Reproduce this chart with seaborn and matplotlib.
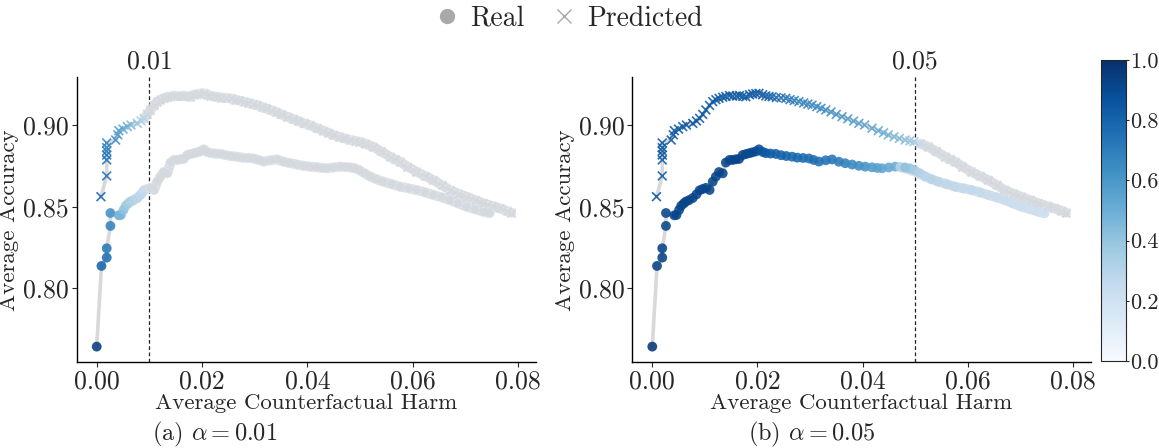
import numpy as np
import pandas as pd
import matplotlib
matplotlib.use("Agg")
import matplotlib.pyplot as plt
import matplotlib.transforms as mtransforms
from matplotlib.lines import Line2D
import seaborn as sns

# ---------------- data ----------------
real_harm = [0.0000, 0.0009, 0.0019, 0.0019, 0.0026, 0.0026, 0.0042, 0.0046, 0.0051, 0.0055,
             0.0060, 0.0064, 0.0070, 0.0077, 0.0084, 0.0090, 0.0096, 0.0102, 0.0109, 0.0115,
             0.0121, 0.0127, 0.0134, 0.0140, 0.0147, 0.0153, 0.0159, 0.0165, 0.0172, 0.0178,
             0.0184, 0.0190, 0.0197, 0.0203, 0.0210, 0.0216, 0.0225, 0.0235, 0.0245, 0.0255,
             0.0266, 0.0276, 0.0287, 0.0298, 0.0307, 0.0317, 0.0330, 0.0342, 0.0355, 0.0367,
             0.0380, 0.0393, 0.0405, 0.0418, 0.0428, 0.0437, 0.0450, 0.0462, 0.0472, 0.0481,
             0.0490, 0.0498, 0.0508, 0.0519, 0.0531, 0.0544, 0.0560, 0.0576, 0.0592, 0.0607,
             0.0623, 0.0639, 0.0655, 0.0670, 0.0686, 0.0702, 0.0718, 0.0734, 0.0746]
real_acc = [0.7643, 0.8137, 0.8188, 0.8245, 0.8382, 0.8461, 0.8447, 0.8449, 0.8480, 0.8505,
            0.8520, 0.8531, 0.8540, 0.8553, 0.8575, 0.8600, 0.8608, 0.8615, 0.8602, 0.8653,
            0.8684, 0.8712, 0.8704, 0.8770, 0.8786, 0.8786, 0.8790, 0.8792, 0.8816, 0.8822,
            0.8827, 0.8832, 0.8838, 0.8851, 0.8835, 0.8828, 0.8825, 0.8823, 0.8815, 0.8810,
            0.8806, 0.8800, 0.8798, 0.8795, 0.8786, 0.8776, 0.8784, 0.8789, 0.8775, 0.8766,
            0.8758, 0.8750, 0.8745, 0.8741, 0.8737, 0.8735, 0.8740, 0.8745, 0.8743, 0.8740,
            0.8735, 0.8725, 0.8705, 0.8685, 0.8668, 0.8653, 0.8638, 0.8622, 0.8612, 0.8602,
            0.8588, 0.8572, 0.8557, 0.8541, 0.8520, 0.8500, 0.8485, 0.8469, 0.8460]
# colour value of each Real point, panel (a) alpha=0.01 and panel (b) alpha=0.05
real_val_a = [0.95, 0.80, 0.76, 0.72, 0.68, 0.62, 0.50, 0.46, 0.42, 0.38,
              0.36, 0.33, 0.31, 0.29, 0.27, 0.25, 0.23, 0.12, 0.10, 0.10,
              0.10, 0.10, 0.10, 0.10, 0.10, 0.10, 0.10, 0.10, 0.10, 0.10,
              0.10, 0.10, 0.10, 0.10, 0.10, 0.10, 0.10, 0.10, 0.10, 0.10,
              0.10, 0.10, 0.10, 0.10, 0.10, 0.10, 0.10, 0.10, 0.10, 0.10,
              0.10, 0.10, 0.10, 0.10, 0.10, 0.10, 0.10, 0.10, 0.10, 0.10,
              0.10, 0.10, 0.10, 0.10, 0.10, 0.10, 0.10, 0.10, 0.10, 0.10,
              0.10, 0.10, 0.10, 0.10, 0.10, 0.10, 0.10, 0.10, 0.10]
real_val_b = [0.97, 0.93, 0.93, 0.93, 0.92, 0.92, 0.92, 0.92, 0.92, 0.92,
              0.92, 0.92, 0.92, 0.92, 0.92, 0.92, 0.92, 0.92, 0.92, 0.92,
              0.92, 0.92, 0.92, 0.92, 0.92, 0.92, 0.92, 0.92, 0.92, 0.91,
              0.91, 0.91, 0.91, 0.89, 0.86, 0.84, 0.83, 0.82, 0.80, 0.80,
              0.78, 0.78, 0.77, 0.76, 0.76, 0.75, 0.74, 0.73, 0.71, 0.69,
              0.66, 0.64, 0.62, 0.58, 0.56, 0.54, 0.52, 0.50, 0.30, 0.42,
              0.40, 0.36, 0.32, 0.30, 0.30, 0.29, 0.28, 0.27, 0.26, 0.26,
              0.25, 0.24, 0.24, 0.23, 0.22, 0.22, 0.21, 0.21, 0.20]

pred_harm = [0.0008, 0.0019, 0.0019, 0.0019, 0.0019, 0.0019, 0.0019, 0.0036, 0.0040, 0.0042,
             0.0050, 0.0058, 0.0065, 0.0077, 0.0084, 0.0090, 0.0096, 0.0102, 0.0109, 0.0115,
             0.0121, 0.0127, 0.0134, 0.0140, 0.0147, 0.0153, 0.0160, 0.0166, 0.0172, 0.0178,
             0.0185, 0.0191, 0.0197, 0.0203, 0.0210, 0.0216, 0.0222, 0.0228, 0.0236, 0.0245,
             0.0254, 0.0262, 0.0270, 0.0279, 0.0288, 0.0296, 0.0304, 0.0313, 0.0321, 0.0330,
             0.0340, 0.0350, 0.0361, 0.0372, 0.0383, 0.0393, 0.0404, 0.0418, 0.0430, 0.0440,
             0.0449, 0.0460, 0.0470, 0.0481, 0.0490, 0.0498, 0.0510, 0.0525, 0.0540, 0.0557,
             0.0566, 0.0576, 0.0590, 0.0607, 0.0623, 0.0639, 0.0655, 0.0670, 0.0686, 0.0702,
             0.0718, 0.0734, 0.0750, 0.0765, 0.0778, 0.0787]
pred_acc = [0.8561, 0.8688, 0.8786, 0.8816, 0.8840, 0.8861, 0.8890, 0.8908, 0.8940, 0.8965,
            0.8975, 0.8990, 0.9000, 0.9010, 0.9025, 0.9041, 0.9065, 0.9092, 0.9120, 0.9143,
            0.9155, 0.9163, 0.9170, 0.9175, 0.9180, 0.9177, 0.9178, 0.9180, 0.9176, 0.9173,
            0.9185, 0.9190, 0.9192, 0.9194, 0.9185, 0.9178, 0.9175, 0.9173, 0.9168, 0.9166,
            0.9163, 0.9155, 0.9150, 0.9143, 0.9135, 0.9128, 0.9122, 0.9112, 0.9102, 0.9092,
            0.9080, 0.9065, 0.9051, 0.9038, 0.9024, 0.9010, 0.9000, 0.8980, 0.8965, 0.8952,
            0.8939, 0.8928, 0.8918, 0.8908, 0.8903, 0.8898, 0.8885, 0.8867, 0.8838, 0.8806,
            0.8790, 0.8775, 0.8745, 0.8714, 0.8688, 0.8663, 0.8633, 0.8602, 0.8580, 0.8561,
            0.8541, 0.8521, 0.8505, 0.8490, 0.8475, 0.8463]
pred_val_a = [0.80, 0.76, 0.76, 0.74, 0.72, 0.70, 0.68, 0.64, 0.60, 0.58,
              0.54, 0.50, 0.45, 0.40, 0.35, 0.30, 0.26, 0.10, 0.10, 0.10,
              0.10, 0.10, 0.10, 0.10, 0.10, 0.10, 0.10, 0.10, 0.10, 0.10,
              0.10, 0.10, 0.10, 0.10, 0.10, 0.10, 0.10, 0.10, 0.10, 0.10,
              0.10, 0.10, 0.10, 0.10, 0.10, 0.10, 0.10, 0.10, 0.10, 0.10,
              0.10, 0.10, 0.10, 0.10, 0.10, 0.10, 0.10, 0.10, 0.10, 0.10,
              0.10, 0.10, 0.10, 0.10, 0.10, 0.10, 0.10, 0.10, 0.10, 0.10,
              0.10, 0.10, 0.10, 0.10, 0.10, 0.10, 0.10, 0.10, 0.10, 0.10,
              0.10, 0.10, 0.10, 0.10, 0.10, 0.10]
pred_val_b = [0.86, 0.84, 0.84, 0.84, 0.84, 0.84, 0.84, 0.84, 0.84, 0.84,
              0.84, 0.84, 0.84, 0.84, 0.84, 0.84, 0.84, 0.84, 0.84, 0.84,
              0.84, 0.84, 0.84, 0.84, 0.84, 0.84, 0.84, 0.84, 0.84, 0.84,
              0.84, 0.84, 0.84, 0.83, 0.82, 0.81, 0.80, 0.79, 0.77, 0.75,
              0.74, 0.72, 0.70, 0.69, 0.68, 0.67, 0.66, 0.65, 0.64, 0.63,
              0.62, 0.61, 0.60, 0.58, 0.57, 0.56, 0.55, 0.54, 0.52, 0.50,
              0.48, 0.46, 0.44, 0.42, 0.40, 0.36, 0.25, 0.18, 0.16, 0.15,
              0.15, 0.15, 0.15, 0.15, 0.15, 0.14, 0.14, 0.14, 0.14, 0.14,
              0.14, 0.14, 0.14, 0.14, 0.14, 0.14]

alphas = [0.01, 0.05]
captions = [r"(a) $\alpha = 0.01$", r"(b) $\alpha = 0.05$"]
threshold_labels = ["0.01", "0.05"]
x_ticks = [0.00, 0.02, 0.04, 0.06, 0.08]
y_ticks = [0.80, 0.85, 0.90]
cbar_ticks = [0.0, 0.2, 0.4, 0.6, 0.8, 1.0]

# ---------------- style ----------------
sns.set_theme(style="white")
plt.rcParams["font.family"] = "serif"
plt.rcParams["font.serif"] = ["cmr10", "DejaVu Serif"]
plt.rcParams["mathtext.fontset"] = "cm"
plt.rcParams["axes.formatter.use_mathtext"] = True
plt.rcParams["axes.unicode_minus"] = False

W, H = 1159, 448
fig = plt.figure(figsize=(W / 100, H / 100), dpi=100)

def box(l, t, r, b):
    return [l / W, 1 - b / H, (r - l) / W, (b - t) / H]

axes = [fig.add_axes(box(76.7, 77.3, 536, 362.3)),
        fig.add_axes(box(632.3, 77.3, 1090.7, 362.3))]
cax = fig.add_axes(box(1100.7, 60, 1126, 361))

GRAY = "#d5d8dc"
TICK_FS = 18.5
series = [
    (real_harm, real_acc, [real_val_a, real_val_b], "o", 50),
    (pred_harm, pred_acc, [pred_val_a, pred_val_b], "x", 40),
]

for i, ax in enumerate(axes):
    for harm, acc, vals, mk, sz in series:
        df = pd.DataFrame({"harm": harm, "acc": acc, "v": vals[i]})
        # thin connecting line
        sns.lineplot(data=df, x="harm", y="acc", sort=False, estimator=None,
                     color="#d9d9d9", lw=2.6, ax=ax, zorder=1)
        # wide pale band under the faint (low value) part of the curve
        low = df[df["v"] < 0.35]
        ax.plot(low["harm"], low["acc"], color=GRAY, lw=7.0, alpha=0.85,
                solid_capstyle="round", solid_joinstyle="round", zorder=1.5)
        kw = dict(edgecolor="none") if mk == "o" else dict(linewidth=1.2)
        sns.scatterplot(data=df, x="harm", y="acc", hue="v", palette="Blues",
                        hue_norm=(0, 1), marker=mk, s=sz, alpha=0.88,
                        legend=False, ax=ax, zorder=2, **kw)
        faded = df[df["v"] < 0.2]
        kw2 = dict(edgecolor="none") if mk == "o" else dict(linewidth=1.6)
        sns.scatterplot(data=faded, x="harm", y="acc", color=GRAY, marker=mk,
                        s=sz * 0.8, alpha=0.9, legend=False, ax=ax, zorder=3, **kw2)

    ax.axvline(alphas[i], color="#222222", lw=0.9, ls=(0, (3, 2)), zorder=0)
    trans = mtransforms.blended_transform_factory(ax.transData, ax.transAxes)
    ax.text(alphas[i], 1.015, threshold_labels[i], transform=trans,
            ha="center", va="bottom", fontsize=TICK_FS)
    ax.set_xlim(-0.0038, 0.0834)
    ax.set_ylim(0.7547, 0.9292)
    ax.set_xticks(x_ticks)
    ax.set_xticklabels([f"{t:.2f}" for t in x_ticks])
    ax.set_yticks(y_ticks)
    ax.set_yticklabels([f"{t:.2f}" for t in y_ticks])
    ax.tick_params(axis="both", labelsize=TICK_FS, length=3.5, width=0.8, direction="out",
                   bottom=True, left=True, pad=2)
    ax.set_xlabel("Average Counterfactual Harm", fontsize=16.5, labelpad=0)
    ax.set_ylabel("Average Accuracy", fontsize=16.5, labelpad=3)
    sns.despine(ax=ax)
    for sp in ["left", "bottom"]:
        ax.spines[sp].set_color("black")
        ax.spines[sp].set_linewidth(1.0)

sm = matplotlib.cm.ScalarMappable(cmap="Blues", norm=matplotlib.colors.Normalize(0, 1))
cb = fig.colorbar(sm, cax=cax, ticks=cbar_ticks)
cb.ax.set_yticklabels([f"{t:.1f}" for t in cbar_ticks])
cb.ax.tick_params(labelsize=16, length=2.5, width=0.8, pad=0.5)
cb.outline.set_linewidth(0.8)

handles = [Line2D([], [], marker="o", ls="none", color="#a9a9a9", markersize=10, label="Real"),
           Line2D([], [], marker="x", ls="none", color="#a9a9a9", markersize=10,
                  markeredgewidth=1.0, label="Predicted")]
fig.legend(handles=handles, loc="center", bbox_to_anchor=(0.49, 0.958), ncol=2,
           frameon=False, fontsize=20, handletextpad=0.35, columnspacing=0.9,
           handlelength=1.0)

fig.text(215 / W, 1 - 434 / H, captions[0], ha="center", va="center", fontsize=17.5)
fig.text(812 / W, 1 - 434 / H, captions[1], ha="center", va="center", fontsize=17.5)

fig.savefig("out.png", dpi=100)
